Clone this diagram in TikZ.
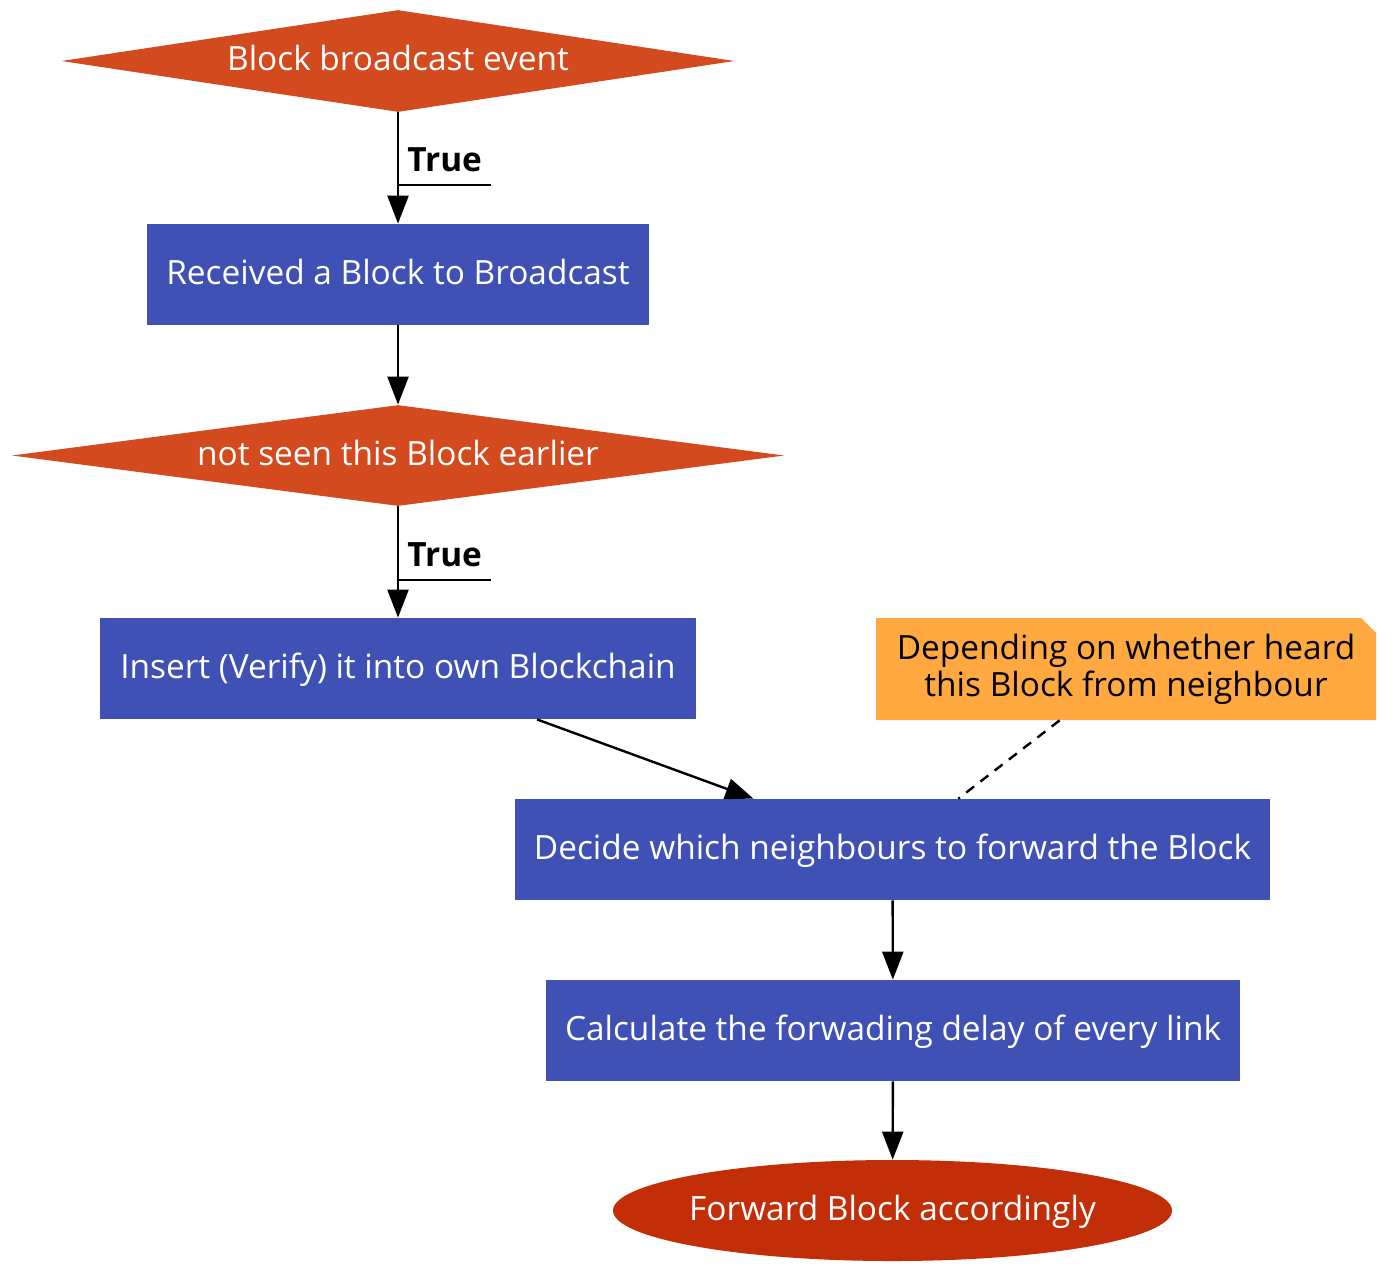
\documentclass[tikz,border=0pt]{standalone}
\usepackage{fontspec}
\setmainfont{Open Sans}
\usetikzlibrary{shapes.geometric,arrows.meta}
\definecolor{decisioncol}{HTML}{D24A1D}
\definecolor{processcol}{HTML}{4051B5}
\definecolor{notecol}{HTML}{FFA940}
\definecolor{endcol}{HTML}{C22E08}

\tikzset{
	basefont/.style={font=\fontsize{16.7}{18.5}\selectfont, text height=12.5pt, text depth=3pt},
	decision/.style={basefont, diamond, fill=decisioncol, text=white, inner sep=0pt, aspect=6.6},
	process/.style={basefont, rectangle, fill=processcol, text=white, minimum height=50.5pt},
	terminal/.style={basefont, ellipse, fill=endcol, text=white, inner ysep=0pt, inner xsep=-4pt, minimum width=279.5pt, minimum height=50.5pt},
	notebox/.style={font=\fontsize{16.7}{18.5}\selectfont, rectangle, align=center, minimum width=250pt, minimum height=51pt,
		path picture={\fill[notecol] (path picture bounding box.south west) -- (path picture bounding box.north west)
			-- ([xshift=-7.5pt]path picture bounding box.north east) -- ([yshift=-7.5pt]path picture bounding box.north east)
			-- (path picture bounding box.south east) -- cycle;}},
	truelab/.style={font=\fontsize{16.7}{18.5}\selectfont\bfseries, anchor=south west, inner xsep=4.5pt, inner ysep=6.5pt},
	flow/.style={-{Triangle[length=14pt,width=10.5pt]}, line width=1.2pt},
	hint/.style={line width=1.2pt, dash pattern=on 5pt off 4pt}
}

\begin{document}
\begin{tikzpicture}[x=0.5pt,y=-0.5pt]
	\useasboundingbox (0,0) rectangle (1400,1286);

	%nodes
	\node[decision, minimum width=336.5pt, minimum height=51pt] (event) at (398,61) {Block broadcast event};
	\node[process, minimum width=251pt] (received) at (398,274.5) {Received a Block to Broadcast};
	\node[decision, minimum width=386pt, minimum height=50.5pt, aspect=7.6] (notseen) at (398,455.5) {not seen this Block earlier};
	\node[process, minimum width=298pt] (insert) at (398,668.5) {Insert (Verify) it into own Blockchain};
	\node[notebox] (hearnote) at (1126,669) {Depending on whether heard\\this Block from neighbour};
	\node[process, minimum width=377.5pt] (decide) at (892.5,849.5) {Decide which neighbours to forward the Block};
	\node[process, minimum width=347pt] (delay) at (893,1030.5) {Calculate the forwading delay of every link};
	\node[terminal] (forward) at (892.5,1210.5) {Forward Block accordingly};

	%labels
	\node[truelab] (true1) at (398,185) {True};
	\node[truelab] (true2) at (398,580) {True};
	\draw[line width=1.2pt] (true1.south west) -- (true1.south east);
	\draw[line width=1.2pt] (true2.south west) -- (true2.south east);

	%edges
	\draw[flow] (event) -- (received);
	\draw[flow] (received) -- (notseen);
	\draw[flow] (notseen) -- (insert);
	\draw[flow] (insert) -- (decide);
	\draw[hint] (hearnote) -- (decide);
	\draw[flow] (decide) -- (delay);
	\draw[flow] (delay) -- (forward);
\end{tikzpicture}
\end{document}
